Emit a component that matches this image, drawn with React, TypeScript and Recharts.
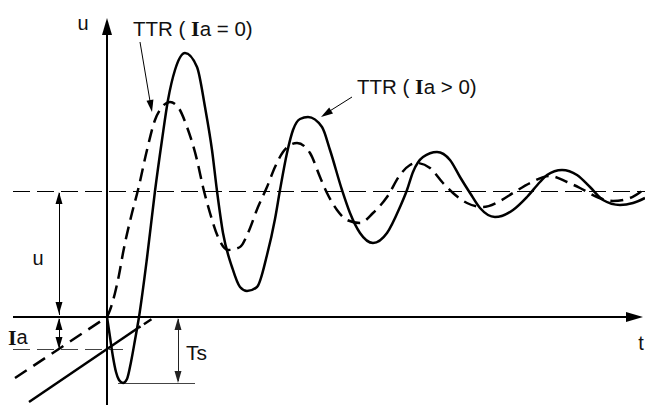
import React from 'react';
import { LineChart, Line, XAxis, YAxis, ReferenceLine, ReferenceDot } from 'recharts';

// time t (0 = current zero), voltage u (steady-state level = 126)
const U_STEADY = 126;
const IA_LEVEL = -32;
const TS_LEVEL = -66;

// TTR (Ia > 0) - solid curve
const ttrPosT = [0, 3, 6, 9, 12, 16, 20, 24, 28, 32, 40, 48, 55, 61, 68, 78, 90, 98, 105, 110, 116, 125, 133, 140, 150, 160, 168, 173, 180, 186, 193, 201, 215, 223, 235, 243, 253, 266, 280, 293, 300, 306, 316, 330, 343, 353, 363, 373, 388, 406, 420, 433, 440, 455, 470, 483, 496, 513, 526, 538];
const ttrPosU = [0, -20, -40, -55, -63, -66, -62, -45, -23, 0, 59, 126, 177, 217, 247, 264, 250, 210, 167, 126, 84, 50, 30, 26, 30, 62, 98, 127, 164, 187, 198, 200, 190, 167, 127, 104, 84, 74, 84, 110, 127, 145, 160, 165, 157, 140, 124, 109, 100, 107, 120, 135, 142, 147, 142, 130, 117, 112, 114, 119];

// TTR (Ia = 0) - dashed curve
const ttrZeroT = [0, 3, 8, 12, 16, 25, 31, 40, 48, 55, 63, 71, 80, 90, 96, 103, 111, 121, 133, 141, 151, 160, 168, 176, 183, 190, 203, 213, 220, 230, 240, 253, 266, 280, 293, 303, 310, 323, 336, 346, 360, 376, 393, 406, 423, 443, 460, 473, 490, 506, 523, 536];
const ttrZeroU = [0, 7, 24, 42, 64, 104, 127, 167, 197, 210, 215, 210, 190, 157, 130, 104, 80, 67, 70, 84, 110, 130, 150, 165, 172, 174, 164, 140, 124, 107, 97, 94, 104, 120, 142, 152, 154, 149, 134, 124, 114, 110, 116, 124, 134, 141, 135, 129, 120, 116, 119, 127];

// current ramps before current zero
const rampZeroT = [-92, 0];
const rampZeroU = [-61, 0];
const rampPosT = [-78, 31];
const rampPosU = [-85, -11];
const rampPosExtT = [31, 48];
const rampPosExtU = [-11, 0];

const zip = (t: number[], u: number[]) => t.map((v, i) => ({ t: v, u: u[i] }));
const seg = (t: number[], u: number[]) => [{ x: t[0], y: u[0] }, { x: t[1], y: u[1] }];

const FONT = '"Liberation Sans", Arial, sans-serif';

const Arrowhead = ({ cx, cy, angle, len, wid, color }: any) => (
  <polygon
    points={`0,0 ${-len},${-wid / 2} ${-len},${wid / 2}`}
    transform={`translate(${cx},${cy}) rotate(${angle})`}
    fill={color}
    stroke="none"
  />
);

const head = (angle: number, len = 12, wid = 7, color = '#000') => (p: any) => (
  <Arrowhead cx={p.cx} cy={p.cy} angle={angle} len={len} wid={wid} color={color} />
);

const headAngle = (t1: number, u1: number, t2: number, u2: number) =>
  (Math.atan2(-(u2 - u1), t2 - t1) * 180) / Math.PI;

const txt = (content: React.ReactNode, anchor = 'start', size = 20) => (p: any) => (
  <text
    x={p.cx}
    y={p.cy}
    dominantBaseline="central"
    textAnchor={anchor}
    fontFamily={FONT}
    fontSize={size}
    fill="#111"
    style={{ whiteSpace: 'pre' }}
  >
    {content}
  </text>
);

const BoldI = () => (
  <tspan fontFamily='"Liberation Serif", "Times New Roman", serif' fontWeight="bold" fontSize={22}>
    I
  </tspan>
);

export default function App() {
  return (
    <div style={{ position: 'absolute', left: 0, top: 0, background: '#fff' }}>
      <LineChart width={645} height={405} margin={{ top: 0, right: 0, bottom: 0, left: 0 }}>
        <XAxis type="number" dataKey="t" domain={[-107, 538]} hide allowDataOverflow />
        <YAxis type="number" dataKey="u" domain={[-88, 317]} hide allowDataOverflow />

        {/* steady-state level and Ia level */}
        <ReferenceLine segment={[{ x: -94, y: U_STEADY }, { x: 538, y: U_STEADY }]} stroke="#000" strokeWidth={1} strokeDasharray="17 7" shapeRendering="crispEdges" />
        <ReferenceLine segment={[{ x: -94, y: IA_LEVEL }, { x: 16, y: IA_LEVEL }]} stroke="#444" strokeWidth={1} strokeDasharray="17 7" shapeRendering="crispEdges" />

        {/* axes */}
        <ReferenceLine segment={[{ x: -94, y: 0 }, { x: 525, y: 0 }]} stroke="#000" strokeWidth={2} />
        <ReferenceLine segment={[{ x: 0, y: -88 }, { x: 0, y: 285 }]} stroke="#000" strokeWidth={2} />
        <ReferenceDot x={536} y={0} shape={head(0, 17, 10)} />
        <ReferenceDot x={0} y={299} shape={head(-90, 17, 10)} />

        {/* u dimension */}
        <ReferenceLine segment={[{ x: -48, y: 2 }, { x: -48, y: 124 }]} stroke="#000" strokeWidth={1} shapeRendering="crispEdges" />
        <ReferenceDot x={-48} y={U_STEADY - 1} shape={head(-90)} />
        <ReferenceDot x={-48} y={3} shape={head(90)} />
        {/* Ia dimension */}
        <ReferenceLine segment={[{ x: -48, y: -2 }, { x: -48, y: IA_LEVEL + 2 }]} stroke="#000" strokeWidth={1} shapeRendering="crispEdges" />
        <ReferenceDot x={-48} y={-1} shape={head(-90)} />
        <ReferenceDot x={-48} y={IA_LEVEL} shape={head(90)} />
        {/* Ts dimension */}
        <ReferenceLine segment={[{ x: 11, y: TS_LEVEL }, { x: 88, y: TS_LEVEL }]} stroke="#444" strokeWidth={1} shapeRendering="crispEdges" />
        <ReferenceLine segment={[{ x: 71, y: -2 }, { x: 71, y: TS_LEVEL + 2 }]} stroke="#222" strokeWidth={1} shapeRendering="crispEdges" />
        <ReferenceDot x={71} y={-1} shape={head(-90, 12, 7, '#222')} />
        <ReferenceDot x={71} y={TS_LEVEL} shape={head(90, 12, 7, '#222')} />

        {/* ramps */}
        <ReferenceLine segment={seg(rampZeroT, rampZeroU)} stroke="#000" strokeWidth={2.5} strokeDasharray="14 8" />
        <ReferenceLine segment={seg(rampPosT, rampPosU)} stroke="#000" strokeWidth={2.5} />
        <ReferenceLine segment={seg(rampPosExtT, rampPosExtU)} stroke="#000" strokeWidth={2.5} strokeDasharray="3 4 9 9" />

        {/* TTR curves */}
        <Line data={zip(ttrZeroT, ttrZeroU)} dataKey="u" type="monotone" stroke="#000" strokeWidth={2.5} strokeDasharray="13 7" dot={false} activeDot={false} isAnimationActive={false} />
        <Line data={zip(ttrPosT, ttrPosU)} dataKey="u" type="monotone" stroke="#000" strokeWidth={2.5} dot={false} activeDot={false} isAnimationActive={false} />

        {/* callout arrows */}
        <ReferenceLine segment={[{ x: 33, y: 275 }, { x: 44, y: 210 }]} stroke="#000" strokeWidth={1} />
        <ReferenceDot x={45} y={205} shape={head(headAngle(33, 275, 45, 205))} />
        <ReferenceLine segment={[{ x: 245, y: 220 }, { x: 218, y: 203 }]} stroke="#000" strokeWidth={1} />
        <ReferenceDot x={214} y={200} shape={head(headAngle(245, 220, 214, 200))} />

        {/* labels */}
        <ReferenceDot x={-24} y={294} shape={txt('u', 'middle')} />
        <ReferenceDot x={534} y={-26} shape={txt('t', 'middle')} />
        <ReferenceDot x={-69} y={59} shape={txt('u', 'middle')} />
        <ReferenceDot x={-99} y={-20} shape={txt(<><BoldI /><tspan>a</tspan></>)} />
        <ReferenceDot x={79} y={-35} shape={txt('Ts', 'start', 21)} />
        <ReferenceDot x={26} y={289} shape={txt(<><tspan>TTR ( </tspan><BoldI /><tspan>a = 0)</tspan></>, 'start', 20.5)} />
        <ReferenceDot x={250} y={231} shape={txt(<><tspan>TTR ( </tspan><BoldI /><tspan>a &gt; 0)</tspan></>, 'start', 20.5)} />
      </LineChart>
    </div>
  );
}
